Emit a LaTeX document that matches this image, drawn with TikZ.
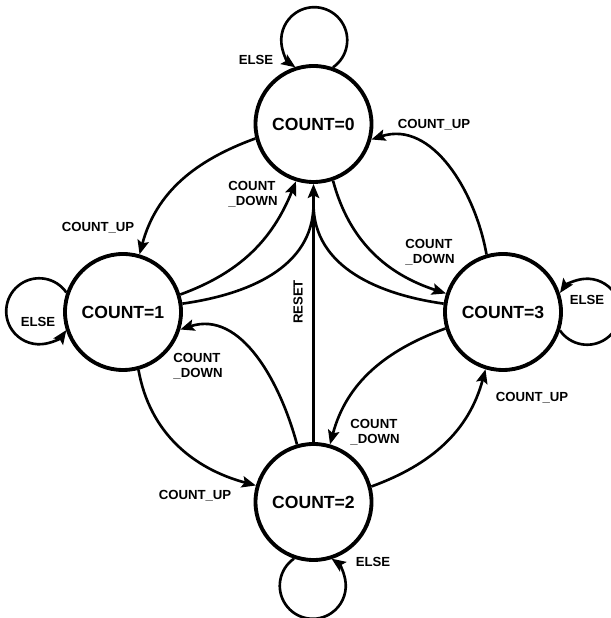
\documentclass[tikz,border=0pt]{standalone}
\usepackage{fontspec}
\setmainfont{Liberation Sans}
\usetikzlibrary{arrows.meta}

\begin{document}
\begin{tikzpicture}[>={Stealth[length=8pt,width=6.5pt,inset=1.5pt]},
    state/.style={draw, circle, line width=2.2pt, minimum size=2.32cm, inner sep=0pt,
                  font=\bfseries\fontsize{10}{12}\selectfont},
    trans/.style={->, line width=1.5pt},
    lbl/.style={font=\bfseries\fontsize{7.5}{8.5}\selectfont, align=left, inner sep=0pt}]

\useasboundingbox (0,0) rectangle (12.22,12.36);

    % States
    \node[state] (c0) at (6.27,9.88) {COUNT=0};
    \node[state] (c1) at (2.46,6.12) {COUNT=1};
    \node[state] (c2) at (6.27,2.32) {COUNT=2};
    \node[state] (c3) at (10.06,6.12) {COUNT=3};

    % Self loops
    \draw[trans] (c0.71.4) arc[start angle=304.7, end angle=595.3, radius=0.66cm];
    \draw[trans] (c1.161.4) arc[start angle=34.7, end angle=325.3, radius=0.66cm];
    \draw[trans] (c3.-18.6) arc[start angle=214.7, end angle=505.3, radius=0.66cm];
    \draw[trans] (c2.251.4) arc[start angle=124.7, end angle=415.3, radius=0.66cm];
    \node[lbl] (e0) at (5.12,11.16) {ELSE};
    \node[lbl] (e1) at (0.76,5.92) {ELSE};
    \node[lbl] (e3) at (11.74,6.36) {ELSE};
    \node[lbl] (e2) at (7.46,1.12) {ELSE};

    % Count up / count down
    \draw[trans] (c0.194) to[out=200, in=75] (c1.74);
    \draw[trans] (c1.17) to[out=20, in=248] (c0.253);
    \draw[trans] (c0.289) to[out=285, in=162] (c3.162);
    \draw[trans] (c3.106) to[out=100, in=18] (c0.345);
    \draw[trans] (c2.106) to[out=105, in=18] (c1.343);
    \draw[trans] (c1.285) to[out=280, in=165] (c2.164);
    \draw[trans] (c3.196) to[out=200, in=75] (c2.74);
    \draw[trans] (c2.15) to[out=20, in=255] (c3.253);

    \node[lbl] (u01) at (1.96,7.80) {COUNT\_UP};
    \node[lbl] (d10) at (5.06,8.48) {COUNT\\\_DOWN};
    \node[lbl] (d03) at (8.60,7.32) {COUNT\\\_DOWN};
    \node[lbl] (u30) at (8.68,9.86) {COUNT\_UP};
    \node[lbl] (d21) at (3.96,5.04) {COUNT\\\_DOWN};
    \node[lbl] (u12) at (3.90,2.44) {COUNT\_UP};
    \node[lbl] (d32) at (7.50,3.72) {COUNT\\\_DOWN};
    \node[lbl] (u23) at (10.64,4.40) {COUNT\_UP};

    % Reset
    \coordinate (rj) at (6.27,8.28);
    \draw[trans] (c2.north) -- (c0.south);
    \draw[line width=1.5pt] (c1.8) to[out=8, in=270] (rj);
    \draw[line width=1.5pt] (c3.172) to[out=172, in=270] (rj);
    \node[lbl, rotate=90] (rst) at (5.96,6.32) {RESET};

\end{tikzpicture}
\end{document}
